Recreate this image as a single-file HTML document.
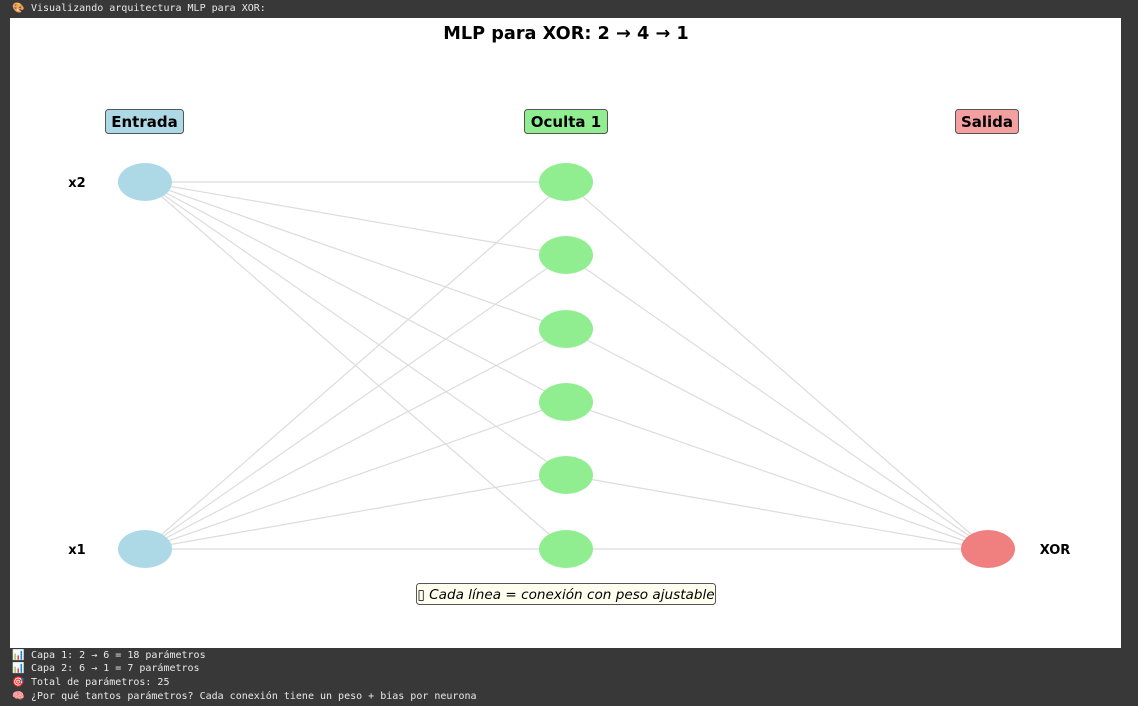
<!DOCTYPE html>
<html><head><meta charset="utf-8"><style>
body{margin:0;width:1138px;height:706px;background:#383838;overflow:hidden;position:relative;font-family:"DejaVu Sans Mono","Liberation Mono",monospace;}
.t{position:absolute;left:31px;color:#e8e8e8;font-size:10px;white-space:pre;}
.ic{position:absolute;left:12px;font-size:10px;}
</style></head><body>
<div class="ic" style="top:3px">🎨</div><div class="t" style="top:3px">Visualizando arquitectura MLP para XOR:</div>
<svg style="position:absolute;left:10px;top:18px" width="1111" height="630" viewBox="10 18 1111 630">
<rect x="10" y="18" width="1111" height="630" fill="#fff"/>
<g stroke="#dcdcdc" stroke-width="1.2">
<line x1="145" y1="182" x2="566" y2="182"/><line x1="145" y1="182" x2="566" y2="255"/><line x1="145" y1="182" x2="566" y2="329"/><line x1="145" y1="182" x2="566" y2="402"/><line x1="145" y1="182" x2="566" y2="475"/><line x1="145" y1="182" x2="566" y2="549"/>
<line x1="145" y1="549" x2="566" y2="182"/><line x1="145" y1="549" x2="566" y2="255"/><line x1="145" y1="549" x2="566" y2="329"/><line x1="145" y1="549" x2="566" y2="402"/><line x1="145" y1="549" x2="566" y2="475"/><line x1="145" y1="549" x2="566" y2="549"/>
<line x1="566" y1="182" x2="988" y2="549"/><line x1="566" y1="255" x2="988" y2="549"/><line x1="566" y1="329" x2="988" y2="549"/><line x1="566" y1="402" x2="988" y2="549"/><line x1="566" y1="475" x2="988" y2="549"/><line x1="566" y1="549" x2="988" y2="549"/>
</g>
<g fill="#add8e6"><ellipse cx="145" cy="182" rx="27" ry="19"/><ellipse cx="145" cy="549" rx="27" ry="19"/></g>
<g fill="#90ee90"><ellipse cx="566" cy="182" rx="27" ry="19"/><ellipse cx="566" cy="255" rx="27" ry="19"/><ellipse cx="566" cy="329" rx="27" ry="19"/><ellipse cx="566" cy="402" rx="27" ry="19"/><ellipse cx="566" cy="475" rx="27" ry="19"/><ellipse cx="566" cy="549" rx="27" ry="19"/></g>
<ellipse cx="988" cy="549" rx="27" ry="19" fill="#f08080"/>
<g font-family="DejaVu Sans, Liberation Sans, sans-serif" font-weight="bold">
<text x="566" y="39" font-size="17.7" text-anchor="middle">MLP para XOR: 2 → 4 → 1</text>
<rect x="105.5" y="109.5" width="78" height="24" rx="3" fill="#add8e6" stroke="#555"/>
<text x="144.5" y="127" font-size="15" text-anchor="middle">Entrada</text>
<rect x="524.5" y="109.5" width="83" height="24" rx="3" fill="#90ee90" stroke="#555"/>
<text x="566" y="127" font-size="15" text-anchor="middle">Oculta 1</text>
<rect x="955.5" y="109.5" width="63" height="24" rx="3" fill="#f4a0a0" stroke="#555"/>
<text x="987" y="127" font-size="15" text-anchor="middle">Salida</text>
<text x="77" y="187" font-size="13" text-anchor="middle">x2</text>
<text x="77" y="554" font-size="13" text-anchor="middle">x1</text>
<text x="1055" y="554" font-size="13" text-anchor="middle">XOR</text>
</g>
<rect x="416.5" y="583.5" width="299" height="21" rx="3" fill="#fffff0" stroke="#555"/>
<text x="566" y="599" font-size="13.6" font-style="italic" text-anchor="middle" font-family="DejaVu Sans, sans-serif">▯ Cada línea = conexión con peso ajustable</text>
</svg>
<div class="ic" style="top:650px">📊</div><div class="t" style="top:650px">Capa 1: 2 → 6 = 18 parámetros</div>
<div class="ic" style="top:663px">📊</div><div class="t" style="top:663px">Capa 2: 6 → 1 = 7 parámetros</div>
<div class="ic" style="top:677px">🎯</div><div class="t" style="top:677px">Total de parámetros: 25</div>
<div class="ic" style="top:691px">🧠</div><div class="t" style="top:691px">¿Por qué tantos parámetros? Cada conexión tiene un peso + bias por neurona</div>
</body></html>
